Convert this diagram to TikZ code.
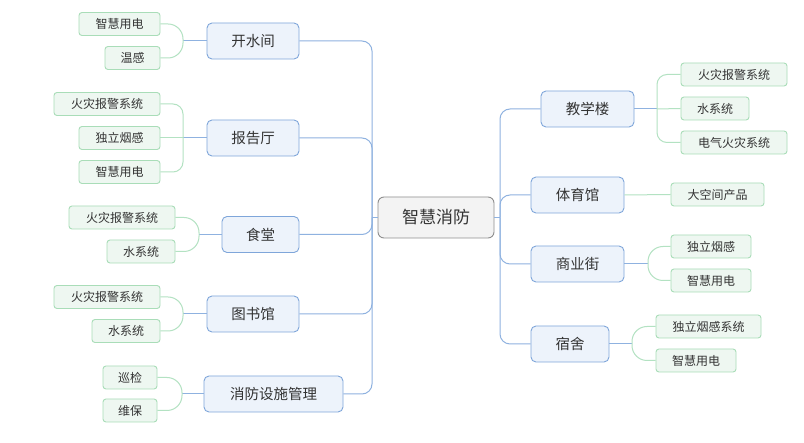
\documentclass[tikz,border=0pt]{standalone}
\usepackage{fontspec}
\newfontfamily\cjk{Noto Sans CJK SC}
\definecolor{txt}{HTML}{333333}
\definecolor{rootd}{HTML}{8E8E8E}
\definecolor{rootf}{HTML}{F3F3F3}
\definecolor{bld}{HTML}{7FA6DA}
\definecolor{blf}{HTML}{EDF3FB}
\definecolor{grd}{HTML}{A9DDB8}
\definecolor{grf}{HTML}{EEF7F1}
\definecolor{blline}{HTML}{8FB2E0}
\definecolor{grline}{HTML}{B3E2C2}
\tikzset{
  rootbox/.style={draw=rootd, fill=rootf, rounded corners=6pt, line width=0.9pt,
    minimum width=116pt, minimum height=41pt, inner sep=0pt, text=txt,
    font=\cjk\fontsize{17}{17}\selectfont},
  onebox/.style={draw=bld, fill=blf, rounded corners=5pt, line width=0.9pt,
    minimum height=36pt, inner sep=0pt, text=txt,
    font=\cjk\fontsize{14.5}{14.5}\selectfont},
  twobox/.style={draw=grd, fill=grf, rounded corners=3pt, line width=0.9pt,
    minimum height=23pt, inner sep=0pt, text=txt,
    font=\cjk\fontsize{12}{12}\selectfont},
  bline/.style={draw=blline, line width=1pt},
  gline/.style={draw=grline, line width=1pt},
  rc/.style={rounded corners=10pt},
  rcb/.style={rounded corners=15pt}
}
\begin{document}
\begin{tikzpicture}[x=1pt,y=-1pt]
\useasboundingbox (0,0) rectangle (804,443);
\fill[white] (0,0) rectangle (804,443);

% trunk coordinates
\coordinate (TL) at (372,217.5);
\coordinate (TR) at (500,217.5);

% connectors first (drawn under nodes)
% root
\node[rootbox] (root) at (436,217.5) {智慧消防};

% level 1 left
\node[onebox, minimum width=92pt] (kss) at (253,41) {开水间};
\node[onebox, minimum width=92pt] (bgt) at (253,138) {报告厅};
\node[onebox, minimum width=77pt] (st) at (260.5,234.5) {食堂};
\node[onebox, minimum width=92pt] (tsg) at (253,314) {图书馆};
\node[onebox, minimum width=139pt] (xf) at (273.5,394) {消防设施管理};

% level 1 right
\node[onebox, minimum width=93pt] (jxl) at (587.5,109) {教学楼};
\node[onebox, minimum width=93pt] (tyg) at (577.5,195) {体育馆};
\node[onebox, minimum width=93pt] (syj) at (577.5,264) {商业街};
\node[onebox, minimum width=78pt] (ss) at (570,344) {宿舍};

% level 2 left
\node[twobox, minimum width=81pt] (a1) at (119.5,24) {智慧用电};
\node[twobox, minimum width=55pt] (a2) at (132.5,58) {温感};
\node[twobox, minimum width=106pt] (b1) at (107,104) {火灾报警系统};
\node[twobox, minimum width=81pt] (b2) at (119.5,138) {独立烟感};
\node[twobox, minimum width=81pt] (b3) at (119.5,172) {智慧用电};
\node[twobox, minimum width=106pt] (c1) at (122,217.5) {火灾报警系统};
\node[twobox, minimum width=68pt] (c2) at (141,251.5) {水系统};
\node[twobox, minimum width=106pt] (d1) at (107,297) {火灾报警系统};
\node[twobox, minimum width=68pt] (d2) at (126,331) {水系统};
\node[twobox, minimum width=54pt] (e1) at (130,377.5) {巡检};
\node[twobox, minimum width=54pt] (e2) at (130,410.5) {维保};

% level 2 right
\node[twobox, minimum width=106pt] (f1) at (734,74.5) {火灾报警系统};
\node[twobox, minimum width=68pt] (f2) at (715,108.5) {水系统};
\node[twobox, minimum width=106pt] (f3) at (734,142.5) {电气火灾系统};
\node[twobox, minimum width=93pt] (g1) at (717.5,194.5) {大空间产品};
\node[twobox, minimum width=80pt] (h1) at (711,246.5) {独立烟感};
\node[twobox, minimum width=80pt] (h2) at (711,280.5) {智慧用电};
\node[twobox, minimum width=105pt] (i1) at (708.5,326.5) {独立烟感系统};
\node[twobox, minimum width=80pt] (i2) at (696,360.5) {智慧用电};

% junction coordinates
\coordinate (Ja) at (183,41);
\coordinate (Jb) at (183,138);
\coordinate (Jc) at (199,234.5);
\coordinate (Jd) at (183,314);
\coordinate (Je) at (182,394);
\coordinate (Jf) at (657,109);
\coordinate (Jh) at (648,264);
\coordinate (Ji) at (632,344);

\begin{scope}[on background layer/.style={}]
% trunk connectors
\draw[bline] (root.west) -- (TL);
\draw[bline] (root.east) -- (TR);
\foreach \n in {kss,bgt,st,tsg,xf} \draw[bline,rc] (\n.east) -| (TL);
\foreach \n in {jxl,tyg,syj,ss} \draw[bline,rc] (\n.west) -| (TR);

% level 2 connectors left
\draw[bline] (kss.west) -- (Ja);
\draw[gline,rcb] (a1.east) -| (Ja);
\draw[gline,rcb] (a2.east) -| (Ja);
\draw[bline] (bgt.west) -- (Jb);
\draw[gline,rc] (b1.east) -| (Jb);
\draw[gline] (b2.east) -- (Jb);
\draw[gline,rc] (b3.east) -| (Jb);
\draw[bline] (st.west) -- (Jc);
\draw[gline,rcb] (c1.east) -| (Jc);
\draw[gline,rcb] (c2.east) -| (Jc);
\draw[bline] (tsg.west) -- (Jd);
\draw[gline,rcb] (d1.east) -| (Jd);
\draw[gline,rcb] (d2.east) -| (Jd);
\draw[bline] (xf.west) -- (Je);
\draw[gline,rcb] (e1.east) -| (Je);
\draw[gline,rcb] (e2.east) -| (Je);

% level 2 connectors right
\draw[bline] (jxl.east) -- (Jf);
\draw[gline,rc] (f1.west) -| (Jf);
\draw[gline] (f2.west) -- (Jf);
\draw[gline,rc] (f3.west) -| (Jf);
\draw[gline] (tyg.east) -- (g1.west);
\draw[bline] (syj.east) -- (Jh);
\draw[gline,rcb] (h1.west) -| (Jh);
\draw[gline,rcb] (h2.west) -| (Jh);
\draw[bline] (ss.east) -- (Ji);
\draw[gline,rcb] (i1.west) -| (Ji);
\draw[gline,rcb] (i2.west) -| (Ji);
\end{scope}
\end{tikzpicture}
\end{document}
